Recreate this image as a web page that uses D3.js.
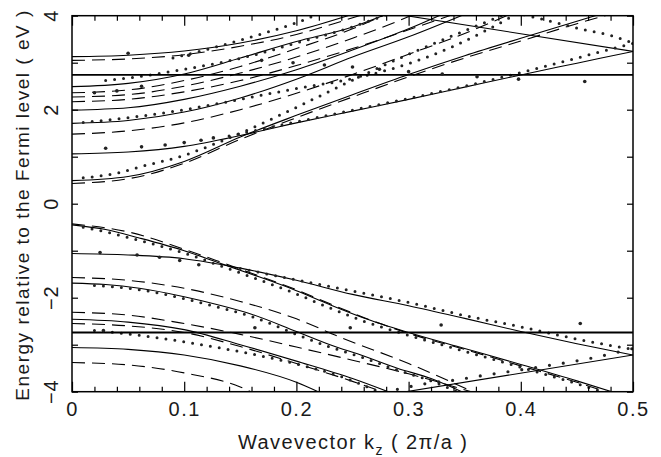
<!DOCTYPE html>
<html><head><meta charset="utf-8">
<script src="https://cdn.jsdelivr.net/npm/d3@7"></script>
<style>body{margin:0;background:#fff}svg{display:block}</style>
</head><body><svg id="c" width="661" height="457"></svg>
<script>
// ---------- data (k in 2π/a, E in eV) ----------
const xMajorTicks = [0, 0.1, 0.2, 0.3, 0.4, 0.5];
const xMinorTicks = [0.02,0.04,0.06,0.08,0.12,0.14,0.16,0.18,0.22,0.24,0.26,0.28,0.32,0.34,0.36,0.38,0.42,0.44,0.46,0.48];
const yTicks = [-4, -3, -2, -1, 0, 1, 2, 3, 4];
const yLabels = [-4, -2, 0, 2, 4];
const flatLevels = [2.74, -2.74];

const upperSolid = [
  [[0,0.49],[0.05,0.58],[0.1,0.9],[0.15,1.42],[0.2,1.88],[0.25,2.32],[0.3,2.75],[0.35,3.15],[0.4,3.52],[0.45,3.88],[0.48,4.1]],
  [[0,1.06],[0.05,1.1],[0.1,1.22],[0.15,1.45],[0.2,1.72],[0.25,1.97],[0.3,2.22],[0.35,2.48],[0.4,2.74],[0.45,2.99],[0.5,3.24]],
  [[0,1.71],[0.05,1.77],[0.1,1.95],[0.15,2.25],[0.2,2.65],[0.25,3.12],[0.3,3.55],[0.35,4.03]],
  [[0,1.99],[0.05,2.04],[0.1,2.22],[0.15,2.5],[0.2,2.85],[0.25,3.27],[0.3,3.72],[0.33,4.03]],
  [[0,2.49],[0.05,2.56],[0.1,2.76],[0.15,3.1],[0.2,3.45],[0.25,3.76],[0.28,4.03]],
  [[0,3.13],[0.05,3.16],[0.1,3.25],[0.15,3.42],[0.2,3.68],[0.25,4.03]],
  [[0.29,4.03],[0.5,3.24]]
];
const upperDashed = [
  [[0,0.43],[0.05,0.53],[0.1,0.86],[0.15,1.37],[0.2,1.83],[0.25,2.27],[0.3,2.7],[0.35,3.1],[0.4,3.46],[0.45,3.83],[0.49,4.1]],
  [[0,1.48],[0.05,1.55],[0.1,1.72],[0.15,2.0],[0.2,2.35],[0.25,2.75],[0.3,3.18],[0.35,3.62],[0.39,4.03]],
  [[0,2.17],[0.05,2.22],[0.1,2.38],[0.15,2.62],[0.2,2.94],[0.25,3.3],[0.3,3.7],[0.34,4.03]],
  [[0,2.27],[0.05,2.32],[0.1,2.5],[0.15,2.78],[0.2,3.12],[0.25,3.52],[0.29,3.88],[0.305,4.03]],
  [[0,2.36],[0.05,2.42],[0.1,2.62],[0.15,2.92],[0.2,3.3],[0.25,3.72],[0.28,4.03]],
  [[0,3.05],[0.05,3.08],[0.1,3.17],[0.15,3.35],[0.2,3.6],[0.24,3.88],[0.26,4.03]]
];
const upperDotted = [
  [[0.01,0.55],[0.04,0.65],[0.06,0.78],[0.1,1.03],[0.13,1.3],[0.15,1.5],[0.2,2.05],[0.25,2.63],[0.3,3.18],[0.35,3.68],[0.385,4.02]],
  [[0.14,1.44],[0.2,1.74],[0.25,1.99],[0.3,2.24],[0.35,2.5],[0.4,2.79],[0.45,3.1],[0.5,3.41]],
  [[0.01,1.73],[0.05,1.83],[0.1,2.0],[0.15,2.22],[0.2,2.45],[0.25,2.66],[0.3,2.98],[0.34,3.35],[0.37,3.7],[0.395,4.02]],
  [[0.03,2.62],[0.064,2.72],[0.1,2.86],[0.138,3.03],[0.168,3.2],[0.2,3.42],[0.251,3.77],[0.28,4.02]],
  [[0.09,3.1],[0.123,3.3],[0.16,3.55],[0.2,3.85],[0.218,4.02]],
  [[0.403,4.02],[0.43,3.86],[0.455,3.71],[0.48,3.58],[0.5,3.42]]
];
const lowerSolid = [
  [[0,-0.45],[0.03,-0.55],[0.06,-0.73],[0.1,-1.0],[0.13,-1.25],[0.16,-1.5],[0.2,-1.85],[0.23,-2.15],[0.26,-2.43],[0.3,-2.74],[0.35,-3.08],[0.4,-3.42],[0.45,-3.77],[0.485,-4.03]],
  [[0,-1.06],[0.05,-1.09],[0.1,-1.17],[0.15,-1.37],[0.2,-1.63],[0.25,-1.93],[0.3,-2.17],[0.35,-2.44],[0.4,-2.72],[0.45,-2.98],[0.5,-3.22]],
  [[0,-1.69],[0.03,-1.72],[0.06,-1.8],[0.1,-1.98],[0.13,-2.15],[0.16,-2.35],[0.2,-2.72],[0.23,-3.0],[0.26,-3.24],[0.29,-3.5],[0.32,-3.72],[0.35,-4.03]],
  [[0,-2.46],[0.05,-2.52],[0.1,-2.68],[0.15,-3.0],[0.2,-3.35],[0.25,-3.72],[0.285,-4.03]],
  [[0,-3.06],[0.05,-3.1],[0.1,-3.22],[0.15,-3.45],[0.2,-3.8],[0.222,-4.03]],
  [[0.29,-4.03],[0.5,-3.22]]
];
const lowerDashed = [
  [[0,-0.43],[0.05,-0.6],[0.1,-0.97],[0.13,-1.22],[0.16,-1.48],[0.2,-1.83],[0.23,-2.13],[0.26,-2.42],[0.3,-2.76],[0.35,-3.1],[0.4,-3.45],[0.45,-3.8],[0.48,-4.03]],
  [[0,-1.57],[0.05,-1.63],[0.1,-1.8],[0.15,-2.08],[0.2,-2.45],[0.24,-2.85],[0.3,-3.4],[0.36,-4.03]],
  [[0,-2.31],[0.05,-2.37],[0.1,-2.55],[0.15,-2.78],[0.2,-3.05],[0.25,-3.33],[0.3,-3.62],[0.36,-4.03]],
  [[0,-2.55],[0.05,-2.6],[0.1,-2.74],[0.15,-3.04],[0.2,-3.4],[0.25,-3.78],[0.28,-4.03]],
  [[0,-3.38],[0.05,-3.43],[0.1,-3.6],[0.15,-3.9],[0.162,-4.03]]
];
const lowerDotted = [
  [[0.01,-0.5],[0.03,-0.6],[0.06,-0.78],[0.1,-1.05],[0.13,-1.3],[0.16,-1.56],[0.2,-1.92],[0.23,-2.22],[0.26,-2.5],[0.3,-2.8],[0.35,-3.14],[0.4,-3.48],[0.45,-3.83],[0.475,-4.02]],
  [[0.15,-1.38],[0.175,-1.5],[0.2,-1.62],[0.25,-1.86],[0.3,-2.1],[0.35,-2.38],[0.4,-2.62],[0.45,-2.88],[0.5,-3.1]],
  [[0.02,-1.74],[0.06,-1.83],[0.1,-2.02],[0.13,-2.2],[0.16,-2.4],[0.2,-2.78],[0.23,-3.05],[0.26,-3.28],[0.29,-3.54],[0.32,-3.77],[0.345,-4.02]],
  [[0.02,-2.7],[0.06,-2.8],[0.09,-2.9],[0.12,-3.02],[0.15,-3.15],[0.2,-3.41],[0.24,-3.68],[0.275,-4.02]]
];
const lowerSparseDotted = [
  [[0.29,-3.95],[0.315,-3.83],[0.342,-3.75],[0.36,-3.68],[0.39,-3.57],[0.42,-3.46],[0.46,-3.3],[0.5,-3.08]]
];
const isolatedDots = [
  [0.05,3.2],[0.104,3.16],[0.169,3.05],[0.197,3.0],[0.225,2.95],[0.25,2.91],[0.274,2.86],[0.3,2.81],[0.33,2.76],[0.361,2.7],[0.398,2.65],[0.457,2.6],
  [0.02,2.36],[0.04,2.4],[0.062,2.5],
  [0.03,1.18],[0.062,1.21],[0.083,1.25],[0.1,1.3],[0.115,1.35],[0.126,1.4],
  [0.028,-2.7],[0.163,-2.64],[0.248,-2.64],[0.329,-2.58],[0.453,-2.55],
  [0.025,-1.04],[0.058,-1.09],[0.078,-1.14],[0.096,-1.21],[0.113,-1.3]
];

// ---------- drawing ----------
const L = 72, R = 633, T = 15.7, B = 391.7;
const svg = d3.select('#c');
const x = d3.scaleLinear().domain([0, 0.5]).range([L, R]);
const y = d3.scaleLinear().domain([-4, 4]).range([B, T]);
const FONT = "'Liberation Sans', Arial, sans-serif";
const INK = '#1a1a1a';

svg.append('defs').append('clipPath').attr('id','pc')
  .append('rect').attr('x', L).attr('y', T).attr('width', R - L).attr('height', B - T);
const plot = svg.append('g').attr('clip-path', 'url(#pc)');

const line = d3.line().x(d => x(d[0])).y(d => y(d[1])).curve(d3.curveMonotoneX);

function drawSet(sets, attrs) {
  sets.forEach(pts => {
    const p = plot.append('path').attr('d', line(pts)).attr('fill', 'none').attr('stroke', '#000');
    Object.entries(attrs).forEach(([k, v]) => p.attr(k, v));
  });
}
drawSet(upperSolid.concat(lowerSolid), {'stroke-width': 1.1});
drawSet(upperDashed.concat(lowerDashed), {'stroke-width': 1.1, 'stroke-dasharray': '13 7'});
drawSet(upperDotted.concat(lowerDotted), {'stroke-width': 3, 'stroke-linecap': 'round', 'stroke-dasharray': '0 9', 'stroke': '#222'});
drawSet(lowerSparseDotted, {'stroke-width': 3.2, 'stroke-linecap': 'round', 'stroke-dasharray': '0 14', 'stroke': '#222'});

plot.selectAll('line.flat').data(flatLevels).enter().append('line')
  .attr('x1', L).attr('x2', R).attr('y1', d => y(d)).attr('y2', d => y(d))
  .attr('stroke', '#000').attr('stroke-width', 1.8);

plot.selectAll('circle.iso').data(isolatedDots).enter().append('circle')
  .attr('cx', d => x(d[0])).attr('cy', d => y(d[1])).attr('r', 1.8).attr('fill', '#222');

// axes (inward ticks)
function styleAxis(g) { g.select('.domain').remove(); g.selectAll('line').attr('stroke', '#000').attr('stroke-width', 1.2); }
svg.append('g').attr('transform', `translate(0,${B})`)
  .call(d3.axisBottom(x).tickValues(xMinorTicks).tickSize(-5).tickFormat('')).call(styleAxis);
svg.append('g').attr('transform', `translate(0,${T})`)
  .call(d3.axisTop(x).tickValues(xMinorTicks).tickSize(-5).tickFormat('')).call(styleAxis);
svg.append('g').attr('transform', `translate(0,${T})`)
  .call(d3.axisTop(x).tickValues(xMajorTicks).tickSize(-10).tickFormat('')).call(styleAxis);
const bx = svg.append('g').attr('transform', `translate(0,${B})`)
  .call(d3.axisBottom(x).tickValues(xMajorTicks).tickSize(-10).tickPadding(10)
    .tickFormat(d => d === 0 ? '0' : d3.format('.1f')(d))).call(styleAxis);
bx.selectAll('text').attr('font-family', FONT).attr('font-size', 20).attr('fill', INK)
  .attr('letter-spacing', 1.5).attr('dy', null).attr('y', 24);

svg.append('g').attr('transform', `translate(${L},0)`)
  .call(d3.axisLeft(y).tickValues(yTicks).tickSize(-6).tickFormat('')).call(styleAxis);
svg.append('g').attr('transform', `translate(${R},0)`)
  .call(d3.axisRight(y).tickValues(yTicks).tickSize(-6).tickFormat('')).call(styleAxis);

svg.selectAll('text.ylab').data(yLabels).enter().append('text')
  .attr('transform', d => `translate(58,${y(d)}) rotate(-90)`)
  .attr('text-anchor', 'middle').attr('font-family', FONT).attr('font-size', 20).attr('fill', INK)
  .attr('letter-spacing', 1)
  .text(d => d < 0 ? '\u2212' + Math.abs(d) : String(d));

// frame
svg.append('rect').attr('x', L).attr('y', T).attr('width', R - L).attr('height', B - T)
  .attr('fill', 'none').attr('stroke', '#000').attr('stroke-width', 1.5);

// titles
const xt = svg.append('text').attr('x', 238).attr('y', 449)
  .attr('font-family', FONT).attr('font-size', 20).attr('fill', INK)
  .attr('textLength', 229).attr('lengthAdjust', 'spacing');
xt.append('tspan').text('Wavevector k');
xt.append('tspan').attr('dy', 6).attr('font-size', 14).text('z');
xt.append('tspan').attr('dy', -6).text('  (  2\u03c0/a  )');

svg.append('text').attr('transform', `translate(29,${(T + B) / 2 + 2}) rotate(-90)`)
  .attr('text-anchor', 'middle').attr('font-family', FONT).attr('font-size', 19).attr('fill', INK)
  .attr('textLength', 390).attr('lengthAdjust', 'spacing')
  .text('Energy relative to the Fermi level ( eV )');
</script></body></html>
